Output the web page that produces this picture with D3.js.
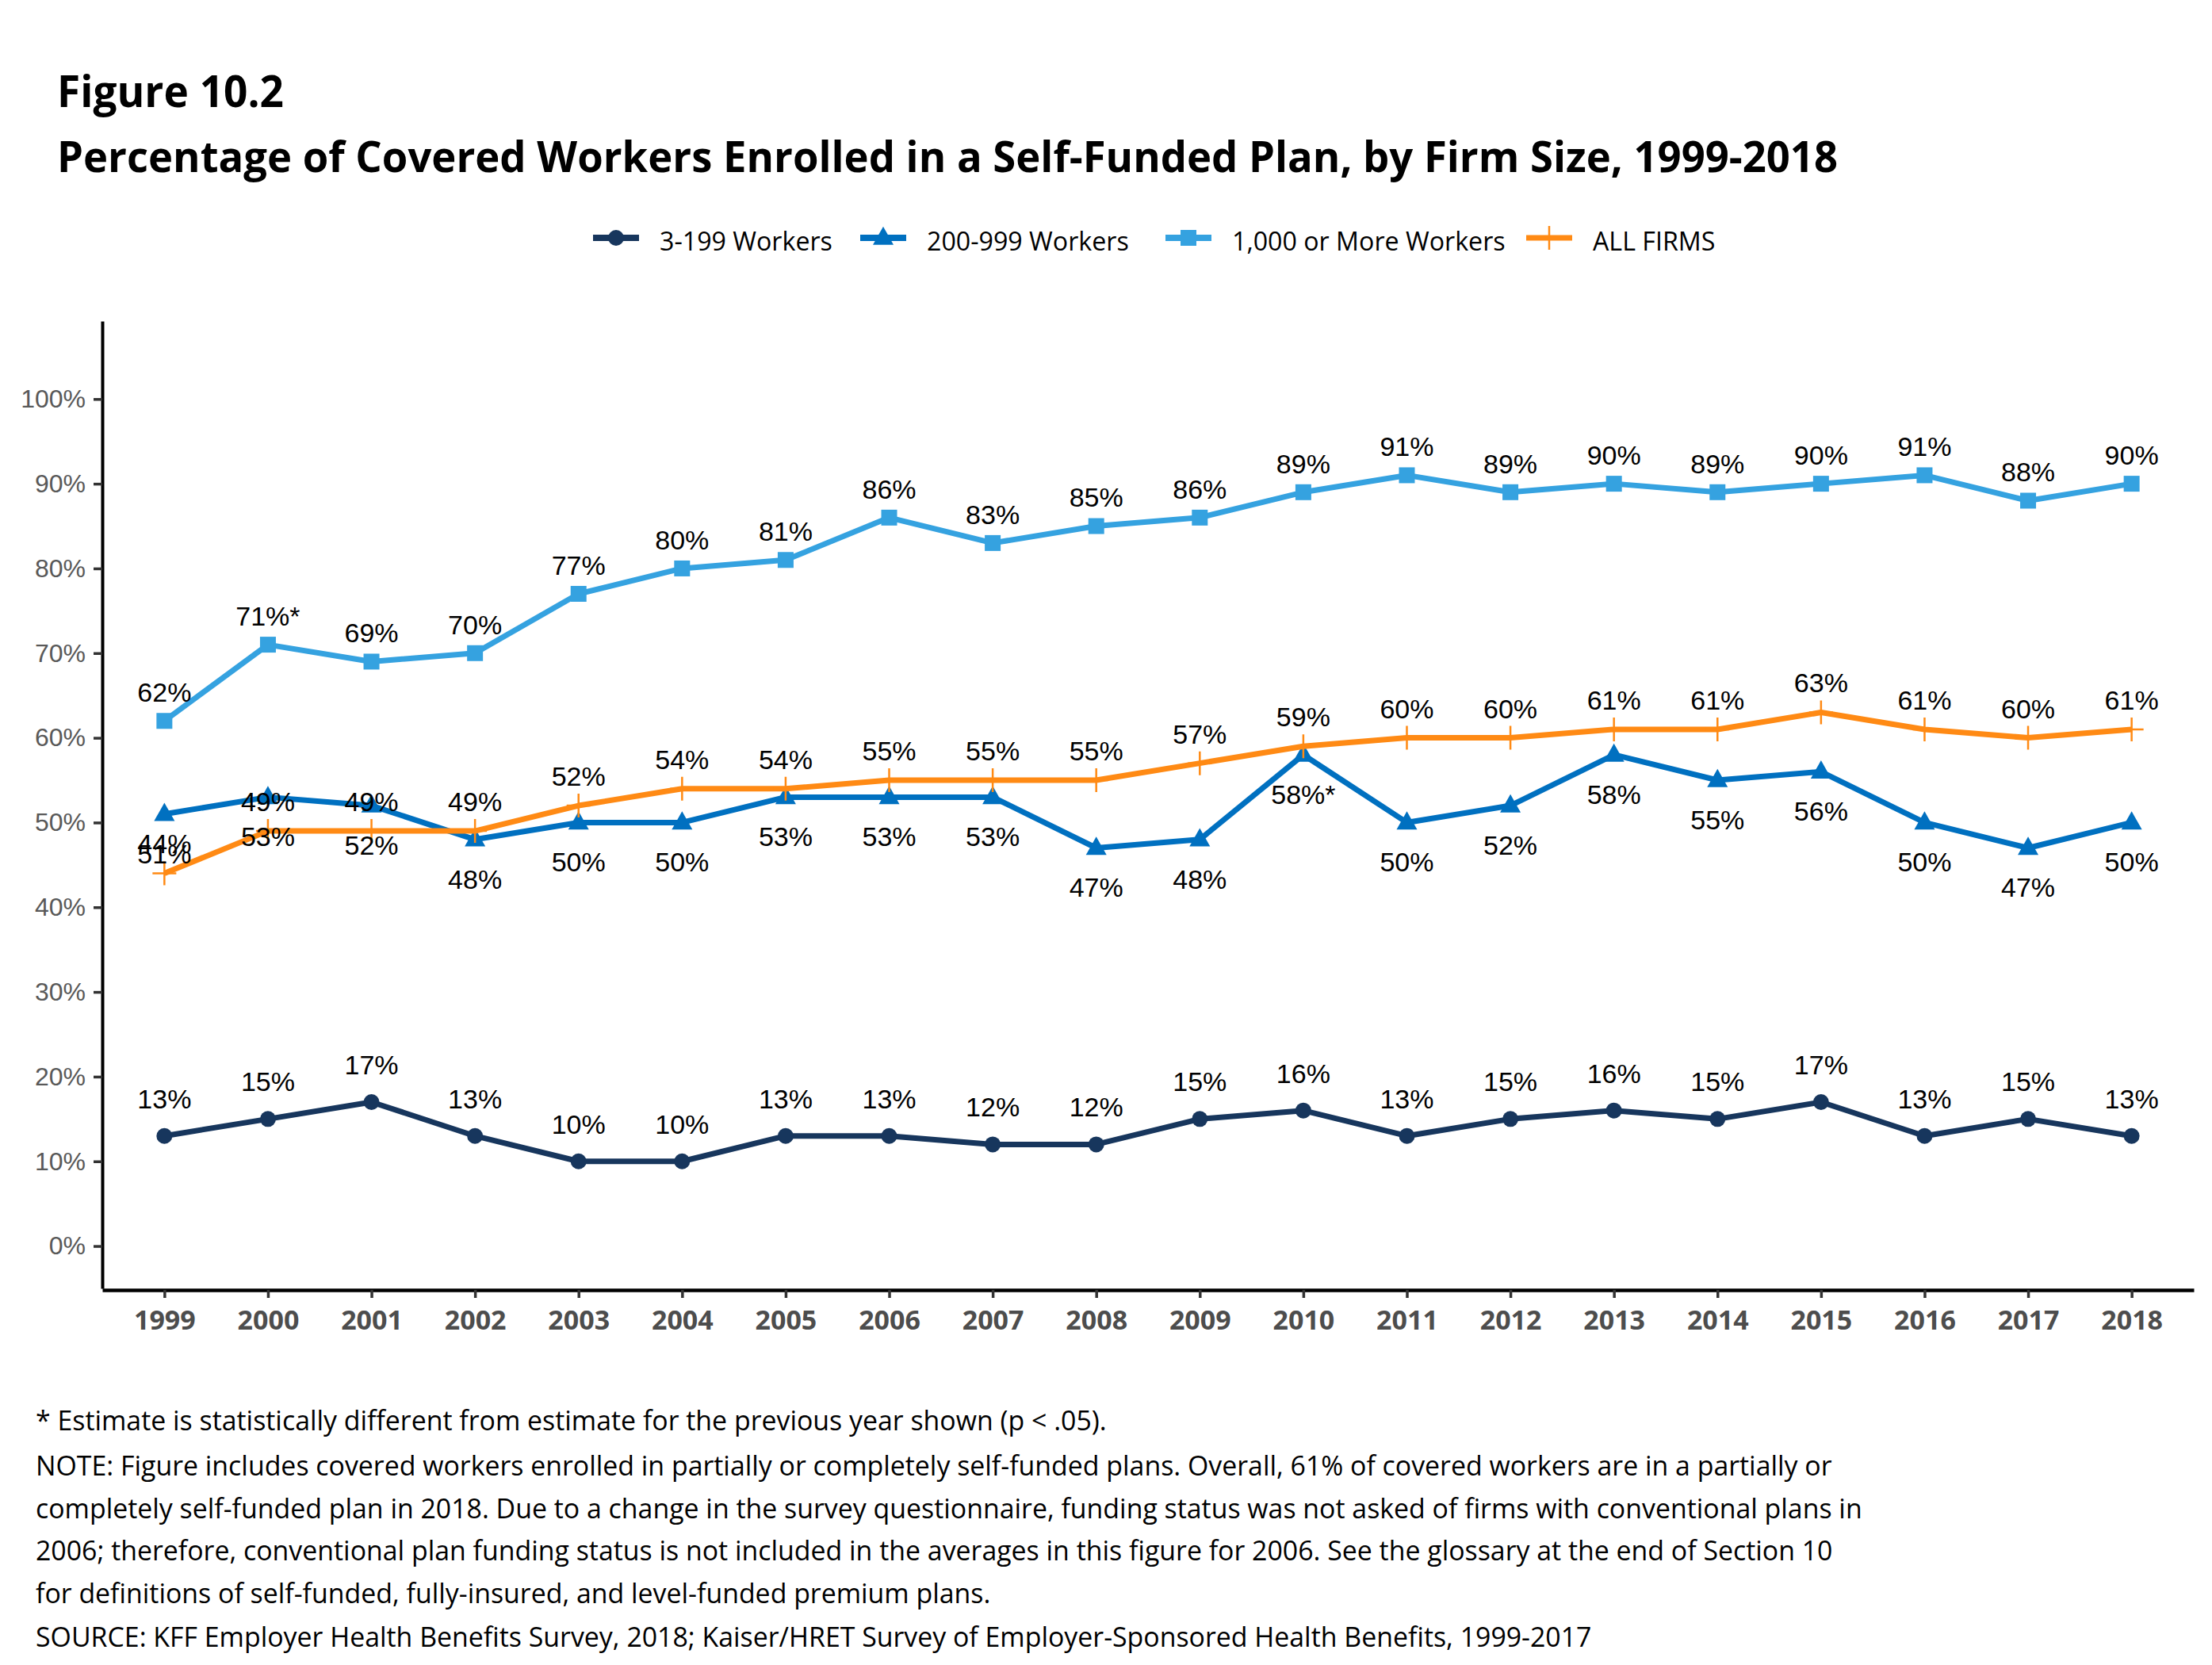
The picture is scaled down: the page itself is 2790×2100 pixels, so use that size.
<!DOCTYPE html>
<html>
<head>
<meta charset="utf-8">
<script src="https://cdn.jsdelivr.net/npm/d3@7"></script>
<style>
  html, body { margin: 0; padding: 0; background: #fff; }
  svg { display: block; }
</style>
</head>
<body>
<svg id="chart" width="2790" height="2100"></svg>
<script>
// ---------- DATA ----------
const years = ["1999","2000","2001","2002","2003","2004","2005","2006","2007","2008","2009","2010","2011","2012","2013","2014","2015","2016","2017","2018"];
const small = [13,15,17,13,10,10,13,13,12,12,15,16,13,15,16,15,17,13,15,13];
const mid = [51,53,52,48,50,50,53,53,53,47,48,58,50,52,58,55,56,50,47,50];
const large = [62,71,69,70,77,80,81,86,83,85,86,89,91,89,90,89,90,91,88,90];
const allFirms = [44,49,49,49,52,54,54,55,55,55,57,59,60,60,61,61,63,61,60,61];
const midStars = ["2010"];
const largeStars = ["2000"];
const seriesNames = ["3-199 Workers","200-999 Workers","1,000 or More Workers","ALL FIRMS"];
const yTicks = [0,10,20,30,40,50,60,70,80,90,100];
const titleText = "Figure 10.2";
const subtitleText = "Percentage of Covered Workers Enrolled in a Self-Funded Plan, by Firm Size, 1999-2018";
const notes = [
  "* Estimate is statistically different from estimate for the previous year shown (p < .05).",
  "NOTE: Figure includes covered workers enrolled in partially or completely self-funded plans. Overall, 61% of covered workers are in a partially or",
  "completely self-funded plan in 2018. Due to a change in the survey questionnaire, funding status was not asked of firms with conventional plans in",
  "2006; therefore, conventional plan funding status is not included in the averages in this figure for 2006. See the glossary at the end of Section 10",
  "for definitions of self-funded, fully-insured, and level-funded premium plans.",
  "SOURCE: KFF Employer Health Benefits Survey, 2018; Kaiser/HRET Survey of Employer-Sponsored Health Benefits, 1999-2017"
];

// ---------- STYLE ----------
const colors = ["#17365D", "#0070C0", "#35A2E0", "#FF8A14"];
const myriad = "'Open Sans', 'Noto Sans', sans-serif";
const arial = "'Liberation Sans', Arial, sans-serif";

const svg = d3.select("#chart");

function fitWidth(sel, target) {
  const node = sel.node();
  const fs = parseFloat(sel.attr("font-size"));
  const w = node.getComputedTextLength();
  if (w > 0) sel.attr("font-size", (fs * target / w).toFixed(2));
  return parseFloat(sel.attr("font-size"));
}
// keep font height, squeeze glyphs horizontally if wider than target
function squeeze(sel, target) {
  const w = sel.node().getComputedTextLength();
  if (w > target) sel.attr("textLength", target).attr("lengthAdjust", "spacingAndGlyphs");
}

// ---------- TITLES ----------
const t1 = svg.append("text").attr("x", 72).attr("y", 135)
  .attr("font-family", myriad).attr("font-weight", 700).attr("font-size", 55)
  .attr("fill", "#000").text(titleText);
squeeze(t1, 286);
const t2 = svg.append("text").attr("x", 72).attr("y", 217)
  .attr("font-family", myriad).attr("font-weight", 700).attr("font-size", 54)
  .attr("fill", "#000").text(subtitleText);
squeeze(t2, 2246);

// ---------- SCALES ----------
const x = d3.scalePoint().domain(years).range([129, 2767]).padding(0.6);
const y = d3.scaleLinear().domain([-5, 109.2]).range([1625, 405]);

// ---------- AXES ----------
const yAxis = svg.append("g").attr("transform", "translate(129,0)")
  .call(d3.axisLeft(y).tickValues(yTicks).tickSize(11).tickSizeOuter(0).tickPadding(10).tickFormat(d => d + "%"));
yAxis.select(".domain").attr("stroke", "#000").attr("stroke-width", 4);
yAxis.selectAll(".tick line").attr("stroke", "#333").attr("stroke-width", 3.5);
yAxis.selectAll(".tick text").attr("font-family", arial).attr("font-size", 32).attr("fill", "#595959");

const xAxis = svg.append("g").attr("transform", "translate(0,1627)")
  .call(d3.axisBottom(x).tickSize(10).tickSizeOuter(0).tickPadding(16));
xAxis.select(".domain").attr("stroke", "#000").attr("stroke-width", 4.5);
xAxis.selectAll(".tick line").attr("stroke", "#333").attr("stroke-width", 3.5);
xAxis.selectAll(".tick text").attr("font-family", myriad).attr("font-weight", 700)
  .attr("font-size", 34).attr("fill", "#4D4D4D").attr("dy", "0.71em");

// ---------- SERIES ----------
const series = [
  { name: seriesNames[0], values: small, color: colors[0], marker: "circle", off: -47, stars: [] },
  { name: seriesNames[1], values: mid, color: colors[1], marker: "triangle", off: 50, stars: midStars },
  { name: seriesNames[2], values: large, color: colors[2], marker: "square", off: -36, stars: largeStars },
  { name: seriesNames[3], values: allFirms, color: colors[3], marker: "plus", off: -37, stars: [] }
];

const line = d3.line().x(d => x(d.year)).y(d => y(d.v));

function drawMarker(g, type, color, cx, cy, scale) {
  scale = scale || 1;
  if (type === "circle") {
    g.append("circle").attr("cx", cx).attr("cy", cy).attr("r", 10 * scale).attr("fill", color);
  } else if (type === "square") {
    const s = 20 * scale;
    g.append("rect").attr("x", cx - s / 2).attr("y", cy - s / 2).attr("width", s).attr("height", s).attr("fill", color);
  } else if (type === "triangle") {
    const w = 26 * scale, h = 23 * scale;
    g.append("path").attr("d", `M${cx},${cy - h * 0.62}L${cx + w / 2},${cy + h * 0.38}L${cx - w / 2},${cy + h * 0.38}Z`).attr("fill", color);
  } else if (type === "plus") {
    const a = 15 * scale;
    g.append("path").attr("d", `M${cx - a},${cy}H${cx + a}M${cx},${cy - a}V${cy + a}`)
      .attr("stroke", color).attr("stroke-width", 2.5).attr("fill", "none");
  }
}

const plot = svg.append("g");
series.forEach(s => {
  const pts = years.map((yr, i) => ({ year: yr, v: s.values[i] }));
  const g = plot.append("g");
  g.append("path").datum(pts).attr("d", line).attr("fill", "none")
    .attr("stroke", s.color).attr("stroke-width", 7).attr("stroke-linejoin", "round");
  pts.forEach(p => drawMarker(g, s.marker, s.color, x(p.year), y(p.v)));
  s.pts = pts;
});

const labels = svg.append("g");
series.forEach(s => {
  s.pts.forEach(p => {
    labels.append("text")
      .attr("x", x(p.year)).attr("y", y(p.v) + s.off).attr("dy", "0.35em")
      .attr("text-anchor", "middle")
      .attr("font-family", arial).attr("font-size", 34).attr("fill", "#000")
      .text(p.v + "%" + (s.stars.includes(p.year) ? "*" : ""));
  });
});

// ---------- LEGEND ----------
const legX = [748, 1085, 1470, 1925];
const legY = 300;
const leg = svg.append("g");
let legFs = null;
series.forEach((s, i) => {
  const lx = legX[i];
  leg.append("line").attr("x1", lx).attr("x2", lx + 58).attr("y1", legY).attr("y2", legY)
    .attr("stroke", s.color).attr("stroke-width", s.marker === "plus" ? 7 : 8);
  drawMarker(leg, s.marker, s.color, lx + 29, legY, 1.0);
  const t = leg.append("text").attr("x", lx + 84).attr("y", legY + 16)
    .attr("font-family", myriad).attr("font-size", legFs || 33).attr("fill", "#000").text(s.name);
  if (i === 0) legFs = fitWidth(t, 218);
});

// ---------- NOTES ----------
const noteY = [1804, 1861, 1915, 1968, 2022, 2077];
const notesG = svg.append("g");
const noteEls = notes.map((n, i) => notesG.append("text").attr("x", 45).attr("y", noteY[i])
  .attr("font-family", myriad).attr("font-size", 30).attr("fill", "#000").text(n));
const nfs = fitWidth(noteEls[2], 2304);
noteEls.forEach(e => e.attr("font-size", nfs));
</script>
</body>
</html>
